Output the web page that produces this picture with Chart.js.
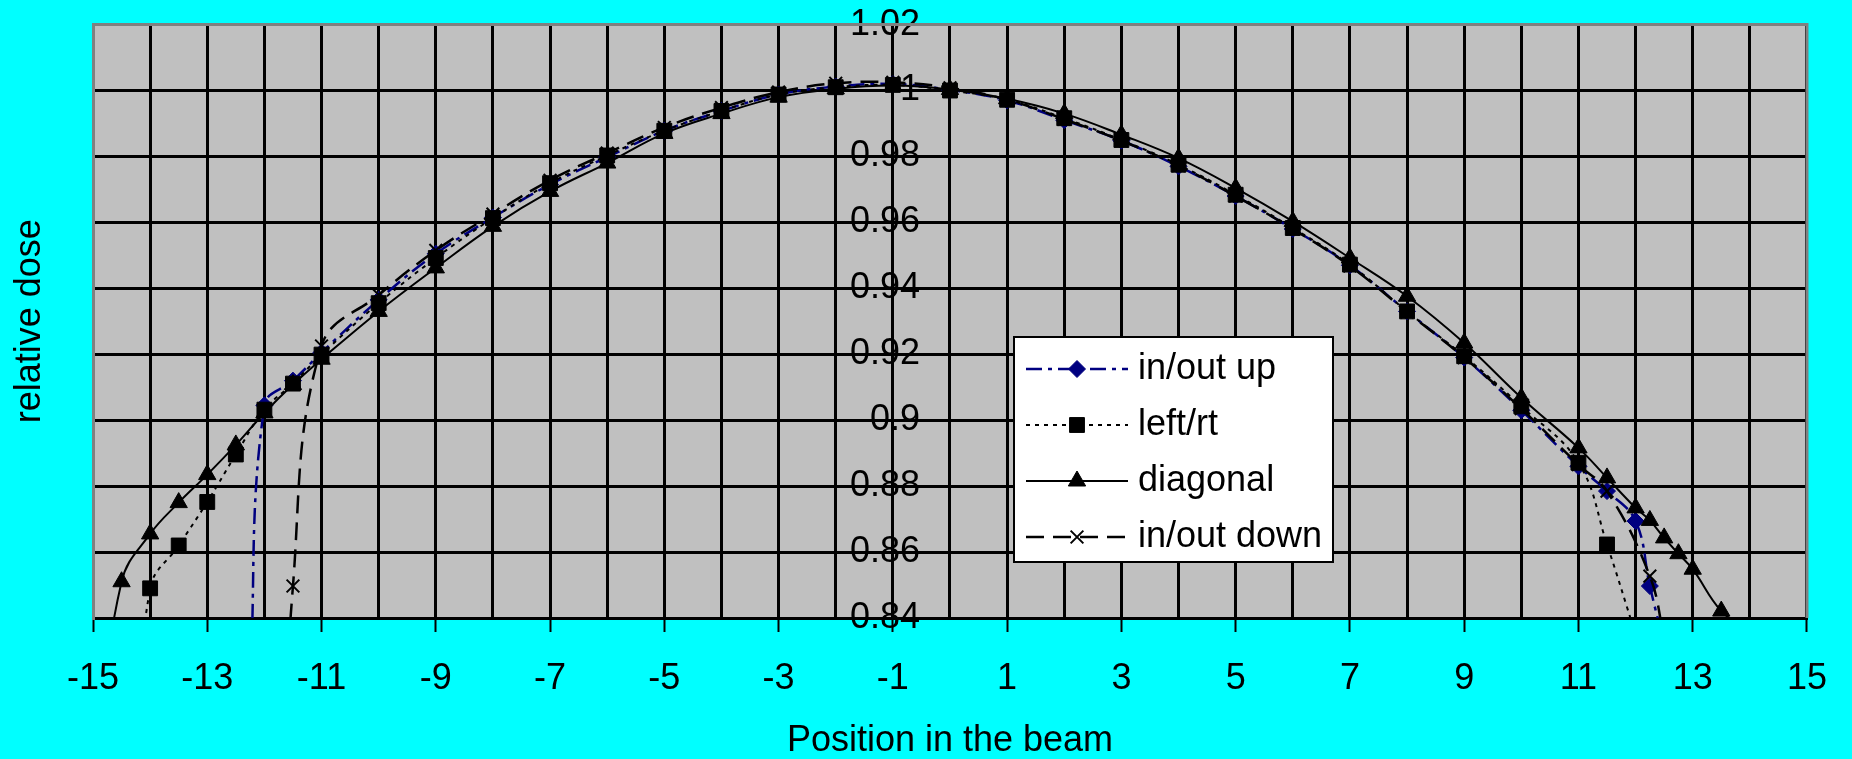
<!DOCTYPE html>
<html>
<head>
<meta charset="utf-8">
<script src="https://cdn.jsdelivr.net/npm/chart.js@4.4.1/dist/chart.umd.min.js"></script>
<style>
  html, body { margin: 0; padding: 0; background: #00ffff; }
  #wrap { width: 1852px; height: 759px; position: relative; }
</style>
</head>
<body>
<div id="wrap"><canvas id="chart"></canvas></div>
<script>
// values
const upX = [-12.25, -12, -11.5, -11, -10, -9, -8, -7, -6, -5, -4, -3, -2, -1, 0, 1, 2, 3, 4, 5, 6, 7, 8, 9, 10, 11, 11.5, 12, 12.25, 12.5];
const upY = [0.82, 0.9045, 0.912, 0.9205, 0.9365, 0.9505, 0.9615, 0.9715, 0.9798, 0.9878, 0.9938, 0.9988, 1.0012, 1.002, 1.0002, 0.997, 0.991, 0.9848, 0.977, 0.968, 0.958, 0.947, 0.933, 0.919, 0.903, 0.886, 0.8785, 0.8694, 0.8497, 0.832];

const lrX = [-14.5, -14, -13.5, -13, -12.5, -12, -11.5, -11, -10, -9, -8, -7, -6, -5, -4, -3, -2, -1, 0, 1, 2, 3, 4, 5, 6, 7, 8, 9, 10, 11, 11.5, 12];
const lrY = [0.76, 0.849, 0.862, 0.8752, 0.8896, 0.9032, 0.9111, 0.9199, 0.9355, 0.9492, 0.9613, 0.9719, 0.9803, 0.9878, 0.9938, 0.9988, 1.001, 1.0017, 1.0, 0.9972, 0.9916, 0.985, 0.9775, 0.9684, 0.9583, 0.9472, 0.933, 0.9194, 0.9042, 0.8871, 0.8623, 0.835];

const dgX = [-15, -14.5, -14, -13.5, -13, -12.5, -12, -11.5, -11, -10, -9, -8, -7, -6, -5, -4, -3, -2, -1, 0, 1, 2, 3, 4, 5, 6, 7, 8, 9, 10, 11, 11.5, 12, 12.25, 12.5, 12.75, 13, 13.5, 14];
const dgY = [0.79, 0.851, 0.8655, 0.875, 0.8835, 0.8925, 0.9022, 0.9108, 0.9185, 0.933, 0.9462, 0.9588, 0.9694, 0.978, 0.987, 0.993, 0.998, 1.0005, 1.0015, 1.0003, 0.9975, 0.993, 0.9866, 0.9795, 0.9704, 0.9603, 0.9492, 0.9376, 0.9234, 0.9068, 0.8916, 0.8825, 0.8734, 0.8696, 0.8643, 0.8595, 0.8548, 0.8421, 0.836];

const dnX = [-12, -11.5, -11, -10, -9, -8, -7, -6, -5, -4, -3, -2, -1, 0, 1, 2, 3, 4, 5, 6, 7, 8, 9, 10, 11, 11.5, 12.25, 12.5];
const dnY = [0.70, 0.8497, 0.9225, 0.938, 0.9515, 0.9625, 0.9728, 0.981, 0.9888, 0.9948, 0.9995, 1.0022, 1.0025, 1.0008, 0.9972, 0.9913, 0.9848, 0.9772, 0.968, 0.958, 0.9468, 0.9328, 0.919, 0.9035, 0.8865, 0.8785, 0.8527, 0.834];

const seriesNames = ['in/out up', 'left/rt', 'diagonal', 'in/out down'];
const xLabels = [-15, -13, -11, -9, -7, -5, -3, -1, 1, 3, 5, 7, 9, 11, 13, 15];

const pts = (xs, ys) => xs.map((x, i) => ({ x: x, y: ys[i] }));

Chart.defaults.font.family = "'Liberation Sans', Arial, sans-serif";
Chart.defaults.font.size = 36;
Chart.defaults.color = '#000';

// legend sample: line with its dash and the marker in the middle
const samples = {};
function sampleFor(ds) {
  if (samples[ds.label]) return samples[ds.label];
  const c = document.createElement('canvas');
  c.width = 102; c.height = 24;
  const g = c.getContext('2d');
  g.strokeStyle = ds.borderColor;
  g.lineWidth = ds.borderWidth;
  g.setLineDash(ds.borderDash || []);
  g.beginPath(); g.moveTo(0, 12); g.lineTo(102, 12); g.stroke();
  g.setLineDash([]);
  g.fillStyle = ds.pointBackgroundColor;
  g.strokeStyle = ds.pointBorderColor;
  g.lineWidth = ds.pointBorderWidth;
  Chart.helpers.drawPoint(g, { pointStyle: ds.pointStyle, radius: ds.pointRadius, borderWidth: ds.pointBorderWidth, rotation: 0 }, 51, 12);
  samples[ds.label] = c;
  return c;
}

const plotFrame = {
  id: 'plotFrame',
  beforeDraw(chart) {
    const { ctx, chartArea: a } = chart;
    ctx.save();
    ctx.fillStyle = '#c0c0c0';
    ctx.fillRect(a.left, a.top, a.right - a.left, a.bottom - a.top);
    ctx.restore();
  },
  beforeDatasetsDraw(chart) {
    const { ctx, chartArea: a } = chart;
    ctx.save();
    ctx.strokeStyle = '#808080';
    ctx.lineWidth = 3;
    ctx.beginPath();
    ctx.moveTo(a.left, a.top); ctx.lineTo(a.right, a.top); ctx.lineTo(a.right, a.bottom);
    ctx.stroke();
    ctx.restore();
  },
  afterDatasetsDraw(chart) {
    // white legend box, legend text is drawn on top of it (z = 1)
    const ctx = chart.ctx;
    ctx.save();
    ctx.fillStyle = '#fff';
    ctx.fillRect(1014, 337, 319, 225);
    ctx.strokeStyle = '#000';
    ctx.lineWidth = 2;
    ctx.strokeRect(1014, 337, 319, 225);
    ctx.restore();
  }
};

const legendSpot = {
  id: 'legendSpot',
  beforeLayout(chart) {
    const lg = chart.legend;
    if (lg) lg._layers = () => [{ z: 1, draw: (area) => lg.draw(area) }];
  },
  afterLayout(chart) {
    const lg = chart.legend;
    if (!lg) return;
    lg.left = 1014; lg.top = 331; lg.right = 1345; lg.bottom = 600;
  }
};

new Chart(document.getElementById('chart'), {
  type: 'line',
  data: {
    datasets: [
      {
        label: seriesNames[0], data: pts(upX, upY),
        borderColor: '#000080', borderWidth: 2.5, borderDash: [16, 6, 4, 6],
        pointStyle: 'rectRot', pointRadius: 8.5, pointBackgroundColor: '#000080', pointBorderColor: '#000080', pointBorderWidth: 1,
        order: 4
      },
      {
        label: seriesNames[1], data: pts(lrX, lrY),
        borderColor: '#000', borderWidth: 2, borderDash: [4, 5],
        pointStyle: 'rect', pointRadius: 10.5, pointBackgroundColor: '#000', pointBorderColor: '#000', pointBorderWidth: 1,
        order: 3
      },
      {
        label: seriesNames[2], data: pts(dgX, dgY),
        borderColor: '#000', borderWidth: 2, borderDash: [],
        pointStyle: 'triangle', pointRadius: 10, pointBackgroundColor: '#000', pointBorderColor: '#000', pointBorderWidth: 1,
        order: 2
      },
      {
        label: seriesNames[3], data: pts(dnX, dnY),
        borderColor: '#000', borderWidth: 2.5, borderDash: [18, 9],
        pointStyle: 'crossRot', pointRadius: 9, pointBackgroundColor: '#000', pointBorderColor: '#000', pointBorderWidth: 2,
        order: 1
      }
    ]
  },
  options: {
    responsive: true,
    maintainAspectRatio: false,
    animation: false,
    layout: { padding: { top: 23, right: 35, bottom: 0, left: 0 } },
    elements: { line: { tension: 0.4, capBezierPoints: false, fill: false } },
    scales: {
      x: {
        type: 'linear', min: -15, max: 15,
        ticks: {
          stepSize: 1, autoSkip: false, maxRotation: 0, padding: 25,
          callback: v => xLabels.includes(v) ? String(v) : ''
        },
        grid: {
          color: '#000', lineWidth: 3, tickLength: 14, tickWidth: 2,
          tickColor: c => (c.tick && xLabels.includes(c.tick.value)) ? '#000' : 'rgba(0,0,0,0)'
        },
        border: { color: '#000', width: 3 },
        title: { display: true, text: 'Position in the beam', font: { size: 36, lineHeight: 1 }, padding: { top: 0, bottom: 0 } },
        afterFit: s => { s.height = 141; }
      },
      y: {
        type: 'linear', position: 'left', min: 0.84, max: 1.02,
        ticks: { stepSize: 0.02, display: false },
        grid: { color: '#000', lineWidth: 3, drawTicks: false },
        border: { color: '#808080', width: 3 },
        title: { display: true, text: 'relative dose', font: { size: 36, lineHeight: 1 }, padding: { top: 12, bottom: 0 } },
        afterFit: s => { s.width = 93; }
      },
      yLab: {
        type: 'linear', position: { x: 0 }, min: 0.84, max: 1.02,
        ticks: { stepSize: 0.02, callback: v => String(Number(v.toFixed(2))) + '   ' },
        grid: { drawOnChartArea: false, drawTicks: true, tickLength: 13, tickWidth: 2, tickColor: '#000' },
        border: { display: false },
        afterFit: s => { s.width = 0; }
      }
    },
    plugins: {
      tooltip: { enabled: false },
      legend: {
        position: 'chartArea', align: 'start',
        labels: {
          usePointStyle: true, pointStyleWidth: 86, padding: 20,
          font: { size: 36 }, color: '#000',
          generateLabels(chart) {
            const items = Chart.defaults.plugins.legend.labels.generateLabels(chart);
            items.sort((a, b) => a.datasetIndex - b.datasetIndex);
            items.forEach(it => { it.pointStyle = sampleFor(chart.data.datasets[it.datasetIndex]); });
            return items;
          }
        }
      }
    }
  },
  plugins: [plotFrame, legendSpot]
});
</script>
</body>
</html>
